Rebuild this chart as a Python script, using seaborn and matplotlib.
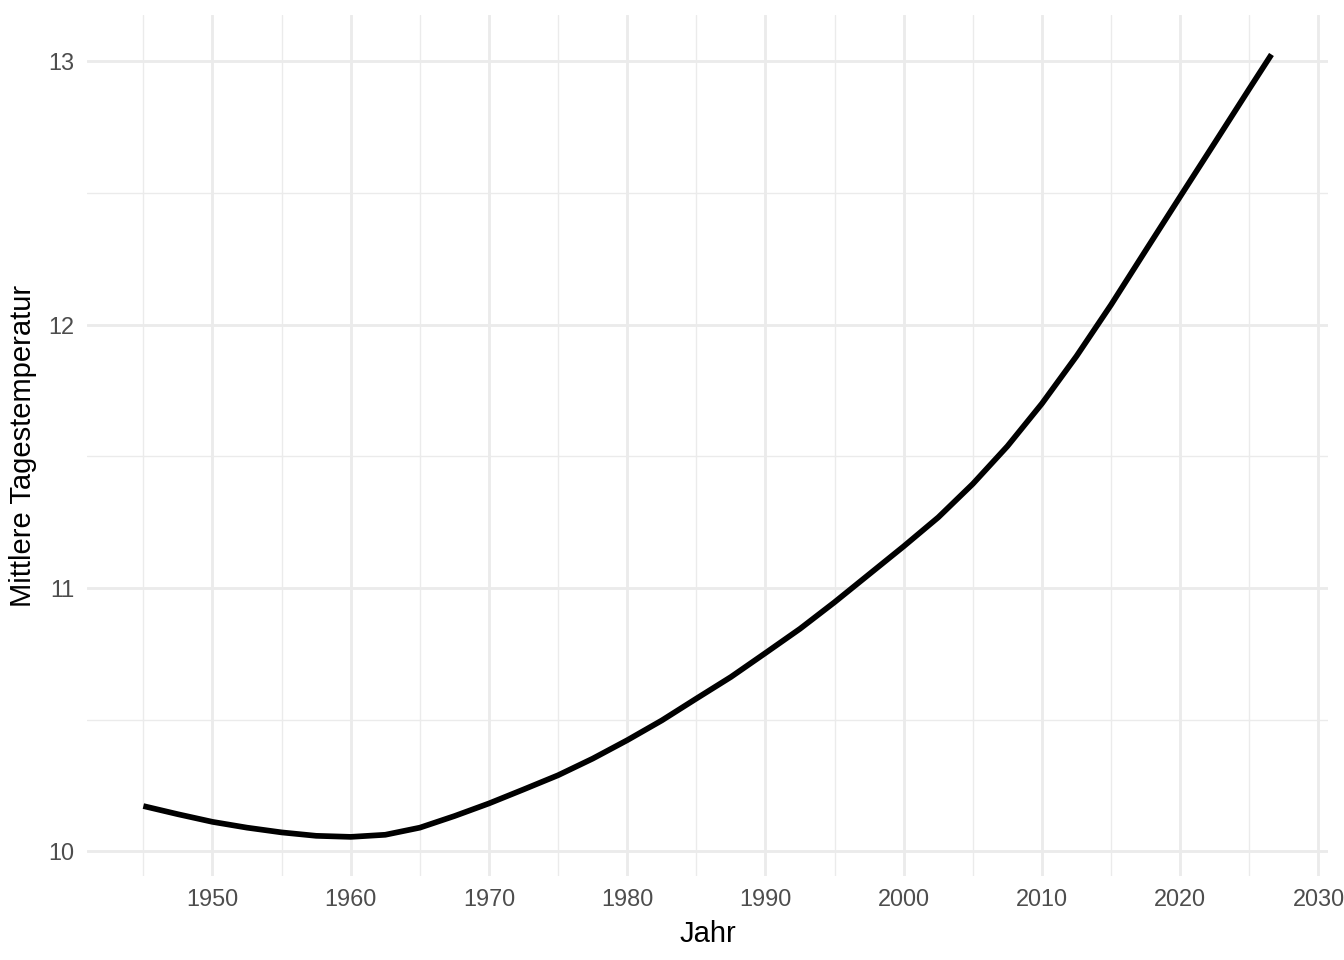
import seaborn as sns
import matplotlib.pyplot as plt
import pandas as pd
from matplotlib.ticker import MultipleLocator

# values
jahr = [1945, 1947.5, 1950, 1952.5, 1955, 1957.5, 1960, 1962.5, 1965, 1967.5,
        1970, 1972.5, 1975, 1977.5, 1980, 1982.5, 1985, 1987.5, 1990, 1992.5,
        1995, 1997.5, 2000, 2002.5, 2005, 2007.5, 2010, 2012.5, 2015, 2017.5,
        2020, 2022.5, 2025, 2026.6]
temperatur = [10.172, 10.141, 10.112, 10.090, 10.072, 10.059, 10.055, 10.063,
              10.090, 10.134, 10.182, 10.235, 10.289, 10.352, 10.422, 10.497,
              10.580, 10.662, 10.753, 10.845, 10.946, 11.052, 11.158, 11.268,
              11.395, 11.538, 11.700, 11.880, 12.075, 12.281, 12.486, 12.690,
              12.895, 13.025]

df = pd.DataFrame({"Jahr": jahr, "Temperatur": temperatur})

sns.set_theme(style="white")
plt.rcParams["font.family"] = ["Liberation Sans", "DejaVu Sans"]

fig, ax = plt.subplots(figsize=(13.44, 9.6), dpi=100)
fig.subplots_adjust(left=0.0647, right=0.988, top=0.984, bottom=0.0875)

sns.lineplot(data=df, x="Jahr", y="Temperatur", color="black", linewidth=4.1,
             solid_capstyle="butt", solid_joinstyle="round", ax=ax)
ax.margins(x=0.05, y=0.05)

ax.xaxis.set_major_locator(MultipleLocator(10))
ax.xaxis.set_minor_locator(MultipleLocator(5))
ax.yaxis.set_major_locator(MultipleLocator(1))
ax.yaxis.set_minor_locator(MultipleLocator(0.5))
ax.grid(which="major", color="#EBEBEB", linewidth=2.05)
ax.grid(which="minor", color="#EBEBEB", linewidth=1.0)
ax.set_axisbelow(True)
for s in ax.spines.values():
    s.set_visible(False)

ax.tick_params(which="both", length=0)
ax.tick_params(axis="x", labelsize=16.9, labelcolor="#4D4D4D", pad=9)
ax.tick_params(axis="y", labelsize=16.9, labelcolor="#4D4D4D", pad=9)
ax.set_xlabel("Jahr", fontsize=21, color="black", labelpad=6)
ax.set_ylabel("Mittlere Tagestemperatur", fontsize=21, color="black", labelpad=8)

plt.savefig("out.png", dpi=100)
plt.close()
